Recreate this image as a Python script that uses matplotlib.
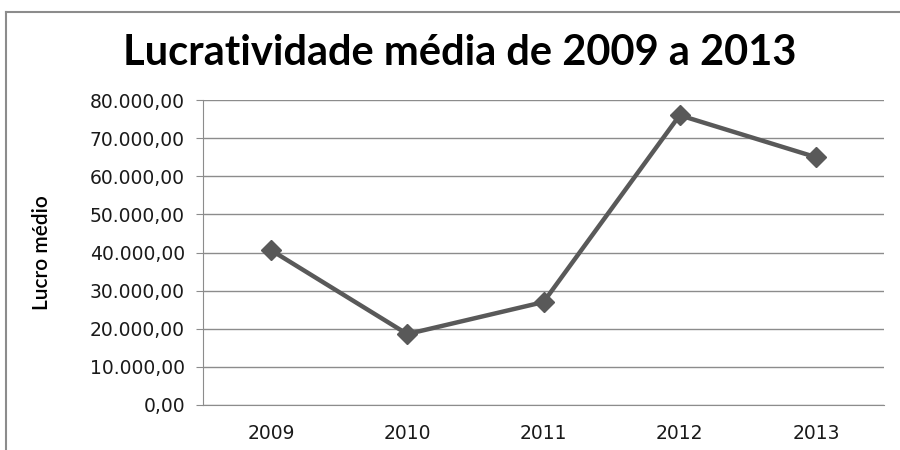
import matplotlib.pyplot as plt
from matplotlib.lines import Line2D
from matplotlib.ticker import FuncFormatter

anos = ["2009", "2010", "2011", "2012", "2013"]
lucro_medio = [40600, 18600, 27000, 76000, 65000]
y_ticks = [0, 10000, 20000, 30000, 40000, 50000, 60000, 70000, 80000]


def formato_br(v, pos=None):
    s = f"{v:,.2f}"
    return s.replace(",", "X").replace(".", ",").replace("X", ".")


fig = plt.figure(figsize=(9, 4.5), dpi=100)
ax = fig.add_axes([203 / 900, 45 / 450, 681 / 900, 305 / 450])

cinza = "#595959"
ax.plot(range(len(anos)), lucro_medio, color=cinza, lw=3.2,
        marker="D", markersize=10, markerfacecolor=cinza, markeredgecolor=cinza)

ax.set_xlim(-0.5, len(anos) - 0.5)
ax.set_ylim(0, 80000)
ax.set_yticks(y_ticks)
ax.yaxis.set_major_formatter(FuncFormatter(formato_br))
ax.set_xticks(range(len(anos)))
ax.set_xticklabels(anos)

ax.grid(axis="y", color="#8c8c8c", lw=1)
ax.set_axisbelow(True)
for lado in ["top", "right"]:
    ax.spines[lado].set_visible(False)
for lado in ["left", "bottom"]:
    ax.spines[lado].set_color("#8c8c8c")
ax.tick_params(axis="y", length=5, color="#8c8c8c", labelsize=13.5,
               labelcolor="#1a1a1a", pad=8)
ax.tick_params(axis="x", length=0, labelsize=13.5, labelcolor="#1a1a1a", pad=14)
for t in ax.get_xticklabels() + ax.get_yticklabels():
    t.set_family("DejaVu Sans")

ax.set_ylabel("Lucro médio", family="Lato", fontweight="semibold", fontsize=15)
ax.yaxis.set_label_coords(-0.222, 0.5)

fig.text(460 / 900, 1 - 53 / 450, "Lucratividade média de 2009 a 2013",
         family="Lato", fontweight="bold", fontsize=30, ha="center", va="center")

# moldura externa do gráfico
fig.add_artist(Line2D([5.5 / 900, 5.5 / 900], [0, 1 - 12 / 450],
                      transform=fig.transFigure, color="#8c8c8c", lw=1.5))
fig.add_artist(Line2D([5.5 / 900, 1], [1 - 12 / 450, 1 - 12 / 450],
                      transform=fig.transFigure, color="#8c8c8c", lw=1.5))

fig.savefig("out.png", dpi=100)
